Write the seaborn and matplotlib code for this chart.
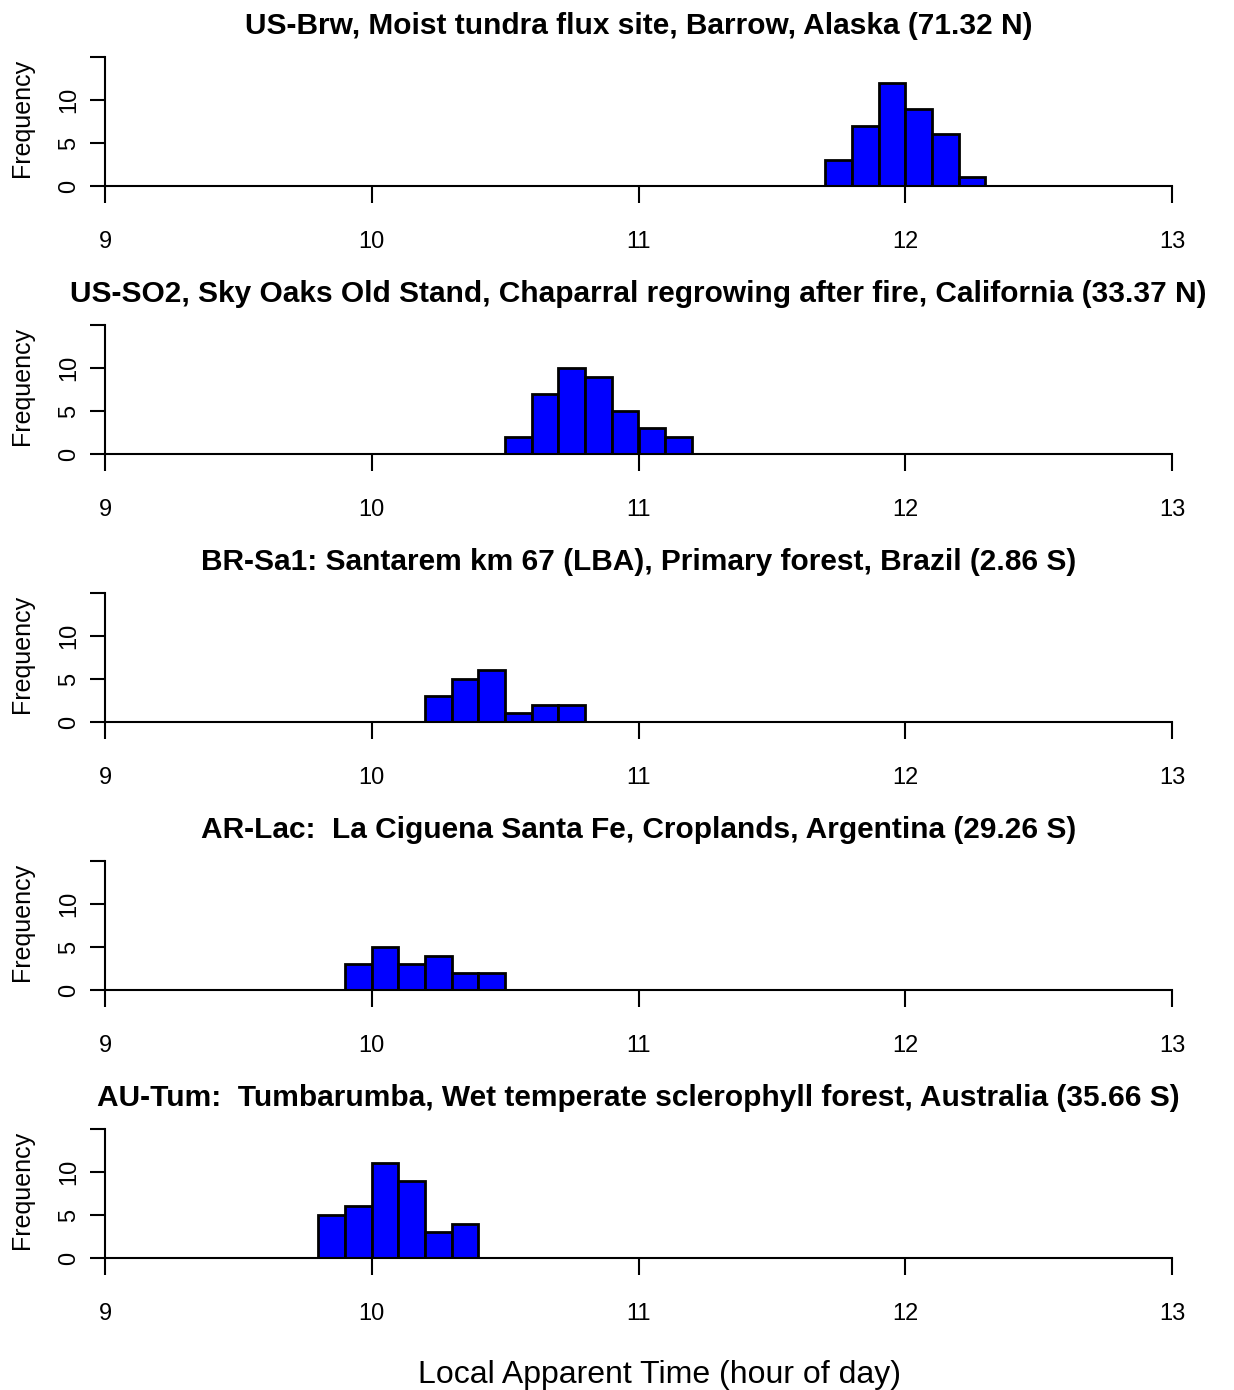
import numpy as np
import pandas as pd
import matplotlib
matplotlib.use("Agg")
import matplotlib.pyplot as plt
import seaborn as sns

# Site titles
titles = [
    "US-Brw, Moist tundra flux site, Barrow, Alaska (71.32 N)",
    "US-SO2, Sky Oaks Old Stand, Chaparral regrowing after fire, California (33.37 N)",
    "BR-Sa1: Santarem km 67 (LBA), Primary forest, Brazil (2.86 S)",
    "AR-Lac:  La Ciguena Santa Fe, Croplands, Argentina (29.26 S)",
    "AU-Tum:  Tumbarumba, Wet temperate sclerophyll forest, Australia (35.66 S)",
]

# Histogram bins (left edges, hour of day) and counts
brw_bins = [11.7, 11.8, 11.9, 12.0, 12.1, 12.2]
brw_counts = [3, 7, 12, 9, 6, 1]

so2_bins = [10.5, 10.6, 10.7, 10.8, 10.9, 11.0, 11.1]
so2_counts = [2, 7, 10, 9, 5, 3, 2]

sa1_bins = [10.2, 10.3, 10.4, 10.5, 10.6, 10.7]
sa1_counts = [3, 5, 6, 1, 2, 2]

lac_bins = [9.9, 10.0, 10.1, 10.2, 10.3, 10.4]
lac_counts = [3, 5, 3, 4, 2, 2]

tum_bins = [9.8, 9.9, 10.0, 10.1, 10.2, 10.3]
tum_counts = [5, 6, 11, 9, 3, 4]

bin_width = 0.1
x_ticks = [9, 10, 11, 12, 13]
y_ticks = [0, 5, 10, 15]
y_tick_labels = ["0", "5", "10", ""]

sites = [
    (brw_bins, brw_counts),
    (so2_bins, so2_counts),
    (sa1_bins, sa1_counts),
    (lac_bins, lac_counts),
    (tum_bins, tum_counts),
]

sns.set_style("white")
plt.rcParams["font.family"] = ["Liberation Sans", "DejaVu Sans"]
plt.rcParams["text.color"] = "black"

W, H = 1234, 1390
fig = plt.figure(figsize=(W / 100, H / 100), dpi=100)

left_px, right_px = 105, 1172
axis_h_px = 129
for i, (bins, counts) in enumerate(sites):
    y0_px = 186 + 268 * i
    ax = fig.add_axes([left_px / W, 1 - y0_px / H,
                       (right_px - left_px) / W, axis_h_px / H])
    df = pd.DataFrame({"hour": np.array(bins) + bin_width / 2, "n": counts})
    edges = list(bins) + [bins[-1] + bin_width]
    sns.histplot(data=df, x="hour", weights="n", bins=edges, ax=ax,
                 color="#0000FF", edgecolor="black", linewidth=2.0, alpha=1)
    ax.set_xlim(9, 13)
    ax.set_ylim(0, 15)
    ax.set_xticks(x_ticks)
    ax.set_xticklabels([str(t) for t in x_ticks])
    ax.set_yticks(y_ticks)
    ax.set_yticklabels(y_tick_labels, rotation=90, va="center")
    ax.set_xlabel("")
    ax.set_ylabel("")
    for s in ["top", "right"]:
        ax.spines[s].set_visible(False)
    ax.spines["left"].set_bounds(0, 15)
    ax.spines["bottom"].set_bounds(9, 13)
    for s in ["left", "bottom"]:
        ax.spines[s].set_linewidth(1.5)
        ax.spines[s].set_color("black")
    ax.tick_params(axis="x", direction="out", length=12, width=1.5,
                   labelsize=17, pad=20.5, colors="black", bottom=True)
    ax.tick_params(axis="y", direction="out", length=11, width=1.5,
                   labelsize=17, pad=7, colors="black", left=True)
    ax.patch.set_alpha(0)
    ax.text(0.5, 1.24, titles[i], transform=ax.transAxes, ha="center",
            va="center", fontsize=21.5, fontweight="bold", color="black")
    ax.text(-83 / (right_px - left_px), 0.53, "Frequency",
            transform=ax.transAxes, rotation=90, ha="center", va="center",
            fontsize=18, color="black")

fig.text(660 / W, 1 - 1375 / H, "Local Apparent Time (hour of day)",
         ha="center", va="center", fontsize=23, color="black")

fig.savefig("out.png", dpi=100)
